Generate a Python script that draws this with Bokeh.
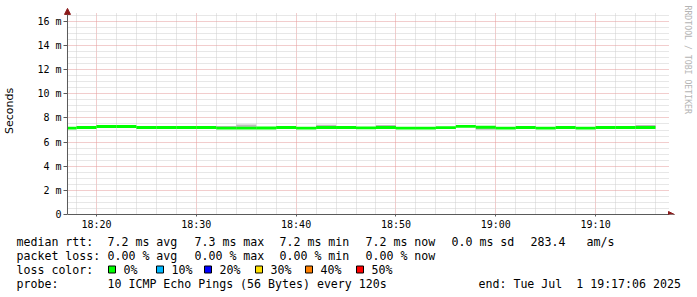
from math import pi
import pandas as pd
from bokeh.plotting import figure
from bokeh.layouts import column, row
from bokeh.models import (Range1d, FixedTicker, DatetimeTickFormatter, Arrow, NormalHead,
                          ColumnDataSource, Title)
from bokeh.core.properties import value
from bokeh.embed import file_html
from bokeh.resources import INLINE

# ---------------- data ----------------
DAY = "2025-07-01"
bin_starts = ["18:16", "18:18", "18:20", "18:22", "18:24", "18:26", "18:28", "18:30",
              "18:32", "18:34", "18:36", "18:38", "18:40", "18:42", "18:44", "18:46",
              "18:48", "18:50", "18:52", "18:54", "18:56", "18:58", "19:00", "19:02",
              "19:04", "19:06", "19:08", "19:10", "19:12", "19:14"]
median_ms = [7.16, 7.21, 7.29, 7.29, 7.21, 7.21, 7.21, 7.21, 7.16, 7.16,
             7.17, 7.21, 7.16, 7.21, 7.21, 7.18, 7.21, 7.16, 7.16, 7.20,
             7.30, 7.23, 7.16, 7.21, 7.16, 7.21, 7.16, 7.21, 7.21, 7.21]
smoke_lo_ms = [7.12, 7.17, 7.25, 7.25, 7.17, 7.17, 7.17, 7.17, 7.12, 7.12,
               7.13, 7.17, 7.12, 7.17, 7.17, 7.14, 7.17, 7.12, 7.12, 7.16,
               7.26, 7.03, 7.12, 7.17, 7.12, 7.17, 7.12, 7.17, 7.17, 7.17]
smoke_hi_ms = [7.20, 7.25, 7.33, 7.33, 7.25, 7.25, 7.25, 7.25, 7.34, 7.46,
               7.21, 7.25, 7.20, 7.44, 7.25, 7.22, 7.41, 7.20, 7.20, 7.24,
               7.34, 7.27, 7.20, 7.25, 7.20, 7.25, 7.20, 7.25, 7.25, 7.41]
step_seconds = 120

y_ticks = [0, 2, 4, 6, 8, 10, 12, 14, 16]
y_tick_labels = ["0", "2 m", "4 m", "6 m", "8 m", "10 m", "12 m", "14 m", "16 m"]
x_tick_times = ["18:20", "18:30", "18:40", "18:50", "19:00", "19:10"]
view_start = "18:17:06"
view_end = "19:17:06"

rtt_title = "median rtt:"
rtt_items = ["7.2 ms avg", "7.3 ms max", "7.2 ms min", "7.2 ms now", "0.0 ms sd", "283.4", "am/s"]
loss_title = "packet loss:"
loss_items = ["0.00 % avg", "0.00 % max", "0.00 % min", "0.00 % now"]
color_title = "loss color:"
loss_labels = ["0%", "10%", "20%", "30%", "40%", "50%"]
loss_colors = ["#00ff00", "#00b8ff", "#0000ff", "#ffe000", "#ff8000", "#ff0000"]
probe_title = "probe:"
probe_text = "10 ICMP Echo Pings (56 Bytes) every 120s"
end_text = "end: Tue Jul\u00a0 1 19:17:06 2025"
watermark = "RRDTOOL / TOBI OETIKER"

# ---------------- helpers ----------------
def ts(hm):
    return pd.Timestamp(f"{DAY} {hm}")

def ms(t):
    return float(t.value // 1_000_000)

W = 697
H_MAIN, H_LEG = 232, 65
FL, FR, FT, FB = 62, 22, 7, 17           # frame borders of main figure
AXIS_X = 66                              # pixel column of the drawn y axis line
PX_PER_MS = 12.125                       # vertical scale (px per millisecond)
SEC_PER_PX = 6.0                         # horizontal scale
Y_TOP = 16.58                            # top of the chart area

frame_w = W - FL - FR
frame_h = H_MAIN - FT - FB
x0 = ts(view_start)
x_frame_start = x0 - pd.Timedelta(seconds=(AXIS_X - FL) * SEC_PER_PX)
x_grid_end = ts(view_end) + pd.Timedelta(seconds=18)
x1 = x_frame_start + pd.Timedelta(seconds=frame_w * SEC_PER_PX)
y_end = frame_h / PX_PER_MS

left = [max(ts(s), x0) for s in bin_starts]
right = [ts(s) + pd.Timedelta(seconds=step_seconds) for s in bin_starts]
band = 0.12
src = ColumnDataSource(dict(
    left=left, right=right,
    med_lo=[m - band for m in median_ms], med_hi=[m + band for m in median_ms],
    s_lo=smoke_lo_ms, s_hi=smoke_hi_ms,
))

p = figure(width=W, height=H_MAIN, x_axis_type="datetime",
           x_range=Range1d(x_frame_start, x1), y_range=Range1d(0, y_end),
           output_backend="svg", toolbar_location=None,
           min_border_left=FL, min_border_right=FR, min_border_top=FT, min_border_bottom=FB,
           background_fill_color="white", border_fill_color="white",
           outline_line_color=None)

# smoke and median band
p.quad(left="left", right="right", bottom="s_lo", top="s_hi", source=src,
       fill_color="#bcbcbc", line_color=None)
p.quad(left="left", right="right", bottom="med_lo", top="med_hi", source=src,
       fill_color="#00ff00", line_color=None)

# ticks / grid
major_x = [ms(ts(t)) for t in x_tick_times]
minor_x = []
t = ts("18:18")
while t <= ts("19:16"):
    if ms(t) not in major_x:
        minor_x.append(ms(t))
    t += pd.Timedelta(minutes=2)
xticker = FixedTicker(ticks=major_x, minor_ticks=minor_x)
minor_y = [i * 0.5 for i in range(0, 34) if (i * 0.5) % 2 != 0]
yticker = FixedTicker(ticks=y_ticks, minor_ticks=minor_y)

p.xaxis.ticker = xticker
p.xgrid.ticker = xticker
p.yaxis.ticker = yticker
p.ygrid.ticker = yticker
fmt = "%H:%M"
p.xaxis.formatter = DatetimeTickFormatter(minsec=fmt, minutes=fmt, hourmin=fmt, hours=fmt)
p.yaxis.major_label_overrides = {v: lab for v, lab in zip(y_ticks, y_tick_labels)}

p.xgrid.cross_bounds = (0, Y_TOP + 0.08)
p.ygrid.cross_bounds = (ms(x0), ms(x_grid_end))
for g in (p.xgrid, p.ygrid):
    g.grid_line_color = "#e49a9a"
    g.grid_line_dash = "1 1"
    g.grid_line_width = 1
    g.minor_grid_line_color = "#cfcfcf"
    g.minor_grid_line_dash = "1 1"
    g.minor_grid_line_width = 1

AX = "#5a5a5a"
for ax in (p.xaxis, p.yaxis):
    ax.axis_line_color = AX
    ax.major_tick_line_color = AX
    ax.minor_tick_line_color = AX
    ax.major_label_text_font = "DejaVu Sans Mono"
    ax.major_label_text_font_size = "10px"
    ax.major_label_text_color = "#000000"

# y axis: labels/ticks from the axis, its line is drawn by the arrow below
p.yaxis.axis_line_color = None
p.yaxis.major_tick_in = AXIS_X - FL
p.yaxis.major_tick_out = 0
p.yaxis.minor_tick_in = 0
p.yaxis.minor_tick_out = 0
p.yaxis.major_label_standoff = 2
p.yaxis.axis_label = "Seconds"
p.yaxis.axis_label_text_font = "DejaVu Sans"
p.yaxis.axis_label_text_font_size = "11px"
p.yaxis.axis_label_text_font_style = "normal"
p.yaxis.axis_label_text_color = "#000000"
p.yaxis.axis_label_standoff = 18

p.xaxis.bounds = (ms(x0), ms(x_grid_end))
p.xaxis.major_tick_in = 0
p.xaxis.minor_tick_in = 0
p.xaxis.major_tick_out = 2
p.xaxis.minor_tick_out = 0
p.xaxis.major_label_standoff = 2

# axis arrows (the vertical one also forms the y axis line)
ARROW = "#8b1a1a"
p.add_layout(Arrow(end=NormalHead(size=6, fill_color=ARROW, line_color=ARROW),
                   x_start=x0, y_start=0, x_end=x0, y_end=Y_TOP + 0.5,
                   line_color=AX, line_width=1))
p.add_layout(Arrow(end=NormalHead(size=6, fill_color=ARROW, line_color=ARROW),
                   x_start=x_grid_end, y_start=0,
                   x_end=x_grid_end + pd.Timedelta(seconds=30), y_end=0,
                   line_color=AX, line_width=1))

# watermark on the right edge
p.add_layout(Title(text=watermark, align="left", vertical_align="top",
                   text_font="DejaVu Sans Mono", text_font_size="8.2px",
                   text_font_style="normal", text_color="#b4b4b4",
                   standoff=10, offset=-2), "right")

# ---------------- legend below ----------------
lg = figure(width=W, height=H_LEG, x_range=Range1d(0, W), y_range=Range1d(H_LEG, 0),
            output_backend="svg", toolbar_location=None,
            min_border=0, min_border_left=0, min_border_right=0,
            min_border_top=0, min_border_bottom=0,
            x_axis_location=None, y_axis_location=None,
            outline_line_color=None, background_fill_color="white",
            border_fill_color="white")
lg.grid.visible = False

MONO = "DejaVu Sans Mono"
FS = "11.6px"
ROWS = [9, 23, 37, 51]
COLS = [107, 194, 279, 365, 451, 530, 586]
BOX_X = [108, 156, 204, 255, 305, 356]

tx, ty, tt = [], [], []
def put(x, y, s):
    tx.append(x); ty.append(y); tt.append(s)

put(16, ROWS[0], rtt_title)
for x, s in zip(COLS, rtt_items):
    put(x, ROWS[0], s)
put(16, ROWS[1], loss_title)
for x, s in zip(COLS, loss_items):
    put(x, ROWS[1], s)
put(16, ROWS[2], color_title)
for bx, lab in zip(BOX_X, loss_labels):
    put(bx + 15, ROWS[2], lab)
put(16, ROWS[3], probe_title)
put(107, ROWS[3], probe_text)
put(478, ROWS[3], end_text)

lg.text(x=tx, y=ty, text=tt, text_font=value(MONO), text_font_size=value(FS),
        text_color="#000000", text_baseline="middle", text_align="left")
lg.quad(left=BOX_X, right=[b + 7 for b in BOX_X],
        top=[ROWS[2] - 3.5] * len(BOX_X), bottom=[ROWS[2] + 3.5] * len(BOX_X),
        fill_color=loss_colors, line_color="#000000", line_width=1)

layout = column(row(p), row(lg), spacing=0)
open("out.html", "w").write(file_html(layout, INLINE))
